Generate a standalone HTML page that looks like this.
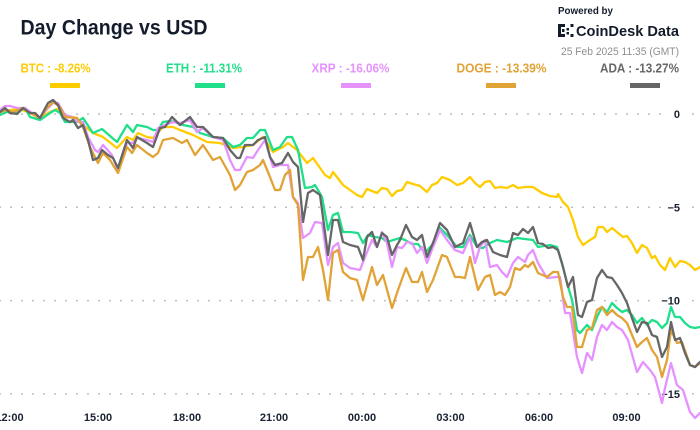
<!DOCTYPE html>
<html><head><meta charset="utf-8"><style>
html,body{margin:0;padding:0;background:#fff;}
svg{display:block;}
text{font-family:"Liberation Sans",sans-serif;}
</style></head><body>
<svg width="700" height="430" viewBox="0 0 700 430" xmlns="http://www.w3.org/2000/svg">
<rect width="700" height="430" fill="#fff"/>
<!-- header -->
<text x="20.5" y="34.5" font-size="21" font-weight="bold" fill="#141c2b" textLength="187" lengthAdjust="spacingAndGlyphs">Day Change vs USD</text>
<text x="558" y="14" font-size="10.5" font-weight="bold" fill="#141c2b" textLength="55" lengthAdjust="spacingAndGlyphs">Powered by</text>
<g fill="#141c2b">
<rect x="558" y="24" width="3" height="13"/>
<rect x="558" y="24" width="7" height="3"/>
<rect x="558" y="34" width="7" height="3"/>
<rect x="562" y="29" width="2.5" height="3"/>
<rect x="566.5" y="28" width="2.5" height="2.5"/>
<rect x="566.5" y="32" width="2.5" height="2.5"/>
<rect x="570.5" y="24" width="3" height="3"/>
<rect x="570.5" y="34" width="3" height="3"/>
</g>
<text x="576" y="36" font-size="15" font-weight="bold" fill="#141c2b" textLength="103" lengthAdjust="spacingAndGlyphs">CoinDesk Data</text>
<text x="561" y="55" font-size="11" fill="#8f8f8f" textLength="118" lengthAdjust="spacingAndGlyphs">25 Feb 2025 11:35 (GMT)</text>
<!-- legend -->
<g font-size="12.5" font-weight="bold">
<text x="20.5" y="72.5" fill="#ffcc00" textLength="70" lengthAdjust="spacingAndGlyphs">BTC : -8.26%</text>
<text x="166" y="72.5" fill="#1fdf8a" textLength="76" lengthAdjust="spacingAndGlyphs">ETH : -11.31%</text>
<text x="311.5" y="72.5" fill="#e592ff" textLength="78" lengthAdjust="spacingAndGlyphs">XRP : -16.06%</text>
<text x="456.5" y="72.5" fill="#e2a336" textLength="90" lengthAdjust="spacingAndGlyphs">DOGE : -13.39%</text>
<text x="600" y="72.5" fill="#666666" textLength="79" lengthAdjust="spacingAndGlyphs">ADA : -13.27%</text>
</g>
<rect x="50" y="83" width="30" height="5" fill="#ffcc00"/>
<rect x="195" y="83" width="30" height="5" fill="#1fdf8a"/>
<rect x="341" y="83" width="30" height="5" fill="#e592ff"/>
<rect x="486" y="83" width="30" height="5" fill="#e2a336"/>
<rect x="630" y="83" width="30" height="5" fill="#666666"/>
<!-- grid -->
<g stroke="#a8a8a8" stroke-width="1.5" stroke-dasharray="1.5 9.5">
<line x1="-0.75" y1="114" x2="700" y2="114"/>
<line x1="-0.75" y1="207.3" x2="700" y2="207.3"/>
<line x1="-0.75" y1="300.6" x2="700" y2="300.6"/>
<line x1="-0.75" y1="393.9" x2="700" y2="393.9"/>
</g>
<g fill="#fff">
<rect x="670" y="107" width="14" height="14"/>
<rect x="664" y="200" width="20" height="14"/>
<rect x="659" y="293" width="25" height="14"/>
<rect x="659" y="387" width="25" height="14"/>
</g>
<g font-size="11" font-weight="bold" fill="#1a2233" text-anchor="end">
<text x="680" y="118">0</text>
<text x="680" y="211.3">−5</text>
<text x="680" y="304.6">−10</text>
<text x="680" y="397.9">−15</text>
</g>
<g font-size="11" font-weight="bold" fill="#1a2233" text-anchor="middle">
<text x="9.5" y="421">12:00</text>
<text x="98" y="421">15:00</text>
<text x="187" y="421">18:00</text>
<text x="274" y="421">21:00</text>
<text x="362" y="421">00:00</text>
<text x="450.5" y="421">03:00</text>
<text x="539" y="421">06:00</text>
<text x="626.5" y="421">09:00</text>
</g>
<!-- series -->
<g fill="none" stroke-width="2.3" stroke-linejoin="round" stroke-linecap="round">
<polyline stroke="#ffcc00" points="0,112 10,110 20,109 30,113 40,118 50,112 57,109 63,115 77,118 83,125 93,133 103,137 117,148 127,137 133,140 138,133 147,137 153,138 163,127 173,127 180,130 193,135 207,142 220,143 233,148 243,147 253,145 263,137 273,152 283,147 288,143 297,150 307,163 313,158 325,175 330,178 333,172 343,185 350,190 357,195 362,197 367,189 377,193 382,188 387,189 392,196 397,191 402,190 407,182 413,184 420,186 427,192 432,185 437,183 442,177 450,180 457,185 463,183 470,177 475,183 480,187 485,182 490,181 495,188 500,187 507,188 513,185 518,188 525,187 533,187 542,193 550,196 557,197 558,194 563,202 568,207 573,220 578,237 583,245 590,240 595,237 598,227 603,227 607,232 612,228 618,233 623,237 627,236 632,243 637,253 642,245 647,248 652,258 655,256 660,265 665,270 670,258 675,267 680,261 685,262 690,265 695,270 700,267"/>
<polyline stroke="#1fdf8a" points="0,115 7,112 17,112 25,108 30,117 40,120 50,113 55,110 60,113 65,122 77,122 83,118 93,133 102,129 117,142 127,125 133,132 137,125 147,127 153,130 158,130 163,122 170,121 175,122 183,125 193,127 200,133 213,137 223,138 233,147 240,145 247,138 253,138 260,130 265,130 273,150 280,147 287,137 292,137 298,150 305,188 312,187 315,185 322,197 328,230 333,215 338,213 343,232 350,232 358,233 363,243 368,235 375,237 382,238 387,242 400,238 405,240 412,244 418,244 425,253 432,245 440,228 447,235 457,247 463,247 470,235 477,247 483,248 490,243 497,240 507,242 517,238 525,239 533,240 538,247 550,245 557,247 562,263 567,283 572,300 577,330 580,333 587,325 592,330 597,317 602,307 607,312 612,303 617,308 622,312 627,310 632,315 637,323 642,318 647,325 652,320 657,322 662,328 667,323 671,307 675,317 680,317 685,323 690,327 695,328 700,327"/>
<polyline stroke="#e592ff" points="0,110 5,106 10,106 17,108 22,108 25,108 32,113 40,118 48,108 53,103 58,103 65,115 72,117 78,122 83,122 88,137 95,150 98,152 103,145 112,155 118,170 127,143 133,143 137,138 147,140 153,142 158,128 165,125 173,122 180,123 190,120 197,132 203,128 213,137 223,140 230,160 235,170 240,170 247,157 253,158 258,150 265,140 273,167 280,165 288,165 293,197 298,203 303,238 310,233 315,222 322,223 328,265 333,247 338,243 343,263 350,268 360,270 365,257 372,240 377,247 382,232 387,243 392,267 397,247 402,248 407,242 412,243 417,253 422,247 427,263 433,247 440,230 447,240 455,250 463,253 470,237 475,263 480,247 485,240 490,267 497,265 502,272 507,277 513,263 518,257 525,262 528,255 533,250 538,263 547,278 557,277 560,277 565,313 570,313 577,357 582,373 587,353 592,360 597,337 602,325 607,330 612,322 617,327 622,330 628,340 637,372 643,362 650,370 655,377 662,403 665,388 671,363 677,385 683,390 690,412 695,418 700,413"/>
<polyline stroke="#e2a336" points="0,112 7,110 13,112 23,108 30,113 40,118 47,108 53,102 60,107 65,117 77,118 83,127 90,147 98,163 103,153 110,160 118,173 127,147 132,153 137,145 147,153 153,157 158,153 163,140 173,138 182,143 187,140 195,155 203,145 213,160 220,157 230,175 235,190 240,185 247,172 253,170 260,165 263,160 270,177 275,190 280,190 285,175 290,170 293,197 298,205 303,280 308,257 313,257 318,247 323,270 328,300 333,253 338,250 343,272 350,278 357,280 363,300 372,267 377,285 383,275 392,308 398,290 406,268 412,282 418,282 422,272 427,292 433,280 442,255 447,257 455,277 460,277 465,278 470,257 478,290 485,277 490,275 495,295 500,292 505,295 510,287 515,268 520,270 525,265 528,267 533,262 538,273 547,277 553,272 558,272 563,297 567,307 572,307 577,347 582,347 587,330 592,328 597,310 602,307 607,315 612,310 617,315 622,318 627,323 632,335 637,347 642,342 647,338 652,350 657,357 662,377 667,360 671,330 677,343 682,342 690,365 695,367 700,363"/>
<polyline stroke="#666666" points="0,112 5,108 10,113 17,114 23,108 30,113 35,113 40,118 48,103 53,100 58,105 63,118 70,122 73,120 78,128 83,125 88,140 93,160 98,158 102,150 108,155 113,158 118,168 127,140 133,148 137,137 147,143 153,147 160,128 165,127 172,117 180,125 190,117 197,127 203,127 213,137 223,138 230,150 237,158 240,158 245,145 253,145 258,140 265,137 270,157 275,165 282,163 288,153 293,162 298,167 303,222 308,193 313,190 320,195 328,255 333,220 338,220 343,242 350,245 358,247 363,260 367,237 372,232 377,247 382,233 387,237 392,255 397,245 400,240 406,225 412,237 417,240 422,235 427,257 433,243 440,223 447,230 455,247 463,243 470,223 477,247 482,242 487,240 493,252 500,255 507,257 513,233 518,235 523,229 528,233 533,227 538,243 543,244 548,248 553,247 558,250 563,267 568,287 573,277 578,315 582,317 587,302 592,300 597,278 602,270 607,277 612,278 617,285 622,293 627,303 632,318 637,332 642,322 647,323 652,335 657,337 662,357 667,347 671,322 675,340 680,338 685,353 690,365 695,367 700,362"/>
</g>
</svg>
</body></html>
